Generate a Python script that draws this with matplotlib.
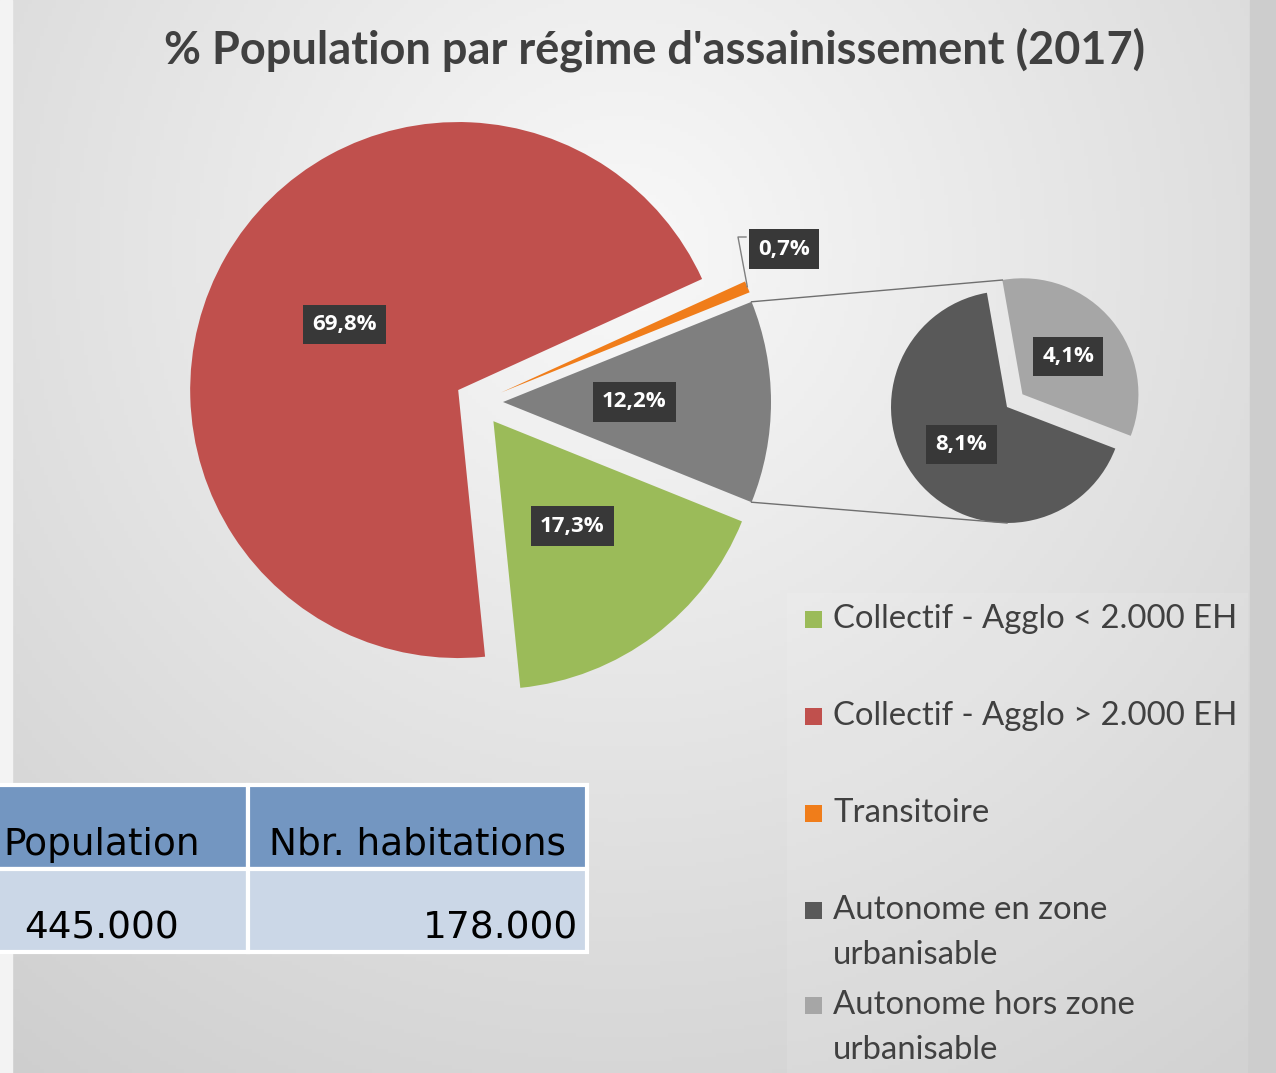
import matplotlib
matplotlib.use('Agg')
import matplotlib.pyplot as plt
import numpy as np
from matplotlib.patches import Rectangle

W, H = 1276, 1073

title = "% Population par régime d'assainissement (2017)"

# main pie (counterclockwise from the "Autonome" group)
main_names = ['Autonome', 'Transitoire', 'Collectif - Agglo > 2.000 EH', 'Collectif - Agglo < 2.000 EH']
main_values = [12.2, 0.7, 69.8, 17.3]
main_colors = ['#7F7F7F', '#F07D1A', '#C0504D', '#9BBB59']

# secondary pie = detail of "Autonome"
sub_names = ['Autonome hors zone\nurbanisable', 'Autonome en zone\nurbanisable']
sub_values = [4.1, 8.1]
sub_colors = ['#A6A6A6', '#595959']

legend_names = ['Collectif - Agglo < 2.000 EH', 'Collectif - Agglo > 2.000 EH', 'Transitoire',
                'Autonome en zone\nurbanisable', 'Autonome hors zone\nurbanisable']
legend_colors = ['#9BBB59', '#C0504D', '#F07D1A', '#595959', '#A6A6A6']

table_headers = ['Population', 'Nbr. habitations']
table_values = ['445.000', '178.000']


def fmt(v):
    return f'{v:.1f}%'.replace('.', ',')


fig = plt.figure(figsize=(W / 100, H / 100), dpi=100)
ax = fig.add_axes([0, 0, 1, 1])

# background gradient
yy, xx = np.mgrid[0:H:4, 0:W:4]
d = np.sqrt(((xx - 620) / 800.0) ** 2 + ((yy - 250) / 800.0) ** 2)
g = np.clip(0.975 - 0.13 * d, 0, 1)
ax.imshow(np.dstack([g, g, g]), extent=[0, W, 0, H], origin='upper', aspect='auto', zorder=0)
ax.add_patch(Rectangle((0, 0), 12, H, color='#f3f3f3', zorder=0.5))
ax.add_patch(Rectangle((1250, 0), 26, H, color='#cdcdcd', zorder=0.5))
ax.add_patch(Rectangle((787, 0), 461, H - 593, color='white', alpha=0.1, lw=0, zorder=0.5))

lbl_box = dict(boxstyle='square,pad=0.42', fc='#383838', ec='none')
lbl_font = dict(color='white', fontsize=16, fontweight='bold', family='Open Sans')

wedges, _, autotexts = ax.pie(main_values, colors=main_colors, startangle=-21.96,
                              center=(479, H - 402), radius=268, explode=[24] * 4,
                              autopct=fmt, pctdistance=0.49, frame=True,
                              wedgeprops=dict(linewidth=0), textprops=lbl_font)
for t in autotexts:
    t.set_bbox(lbl_box)

# small slice label outside with leader
orange = wedges[1]
tm = np.deg2rad((orange.theta1 + orange.theta2) / 2)
tip = (orange.center[0] + orange.r * np.cos(tm), orange.center[1] + orange.r * np.sin(tm))
autotexts[1].set_position((784, H - 249))
ax.plot([tip[0], 738, 746], [tip[1], H - 237, H - 237], color='#7f7f7f', lw=1, zorder=2)

sub_total = sum(sub_values)
sw, _, sub_texts = ax.pie(sub_values, colors=sub_colors, startangle=-21,
                          center=(1007, H - 407), radius=116, explode=[20, 0],
                          autopct=lambda p: fmt(p * sub_total / 100), pctdistance=0.51,
                          frame=True, wedgeprops=dict(linewidth=0), textprops=lbl_font)
for t in sub_texts:
    t.set_bbox(lbl_box)

# connector lines between the pies
gw = wedges[0]
gtop = (gw.center[0] + gw.r * np.cos(np.deg2rad(gw.theta2)), gw.center[1] + gw.r * np.sin(np.deg2rad(gw.theta2)))
gbot = (gw.center[0] + gw.r * np.cos(np.deg2rad(gw.theta1)), gw.center[1] + gw.r * np.sin(np.deg2rad(gw.theta1)))
lw_ = sw[0]
stop = (lw_.center[0] + lw_.r * np.cos(np.deg2rad(lw_.theta2)), lw_.center[1] + lw_.r * np.sin(np.deg2rad(lw_.theta2)))
sbot = (sw[1].center[0], sw[1].center[1] - sw[1].r)
ax.plot([gtop[0], stop[0]], [gtop[1], stop[1]], color='#6f6f6f', lw=1, zorder=3)
ax.plot([gbot[0], sbot[0]], [gbot[1], sbot[1]], color='#6f6f6f', lw=1, zorder=3)

ax.text(655, H - 50, title, ha='center', va='center', fontsize=32.5, fontweight='bold',
        color='#404040', family='Lato')

# legend
leg_y = [619, 716, 813, 910, 1005]
for name, col, y in zip(legend_names, legend_colors, leg_y):
    ax.add_patch(Rectangle((805, H - y - 9), 17, 17, color=col, lw=0, zorder=3))
    for i, line in enumerate(name.split('\n')):
        ax.text(833, H - y - i * 45, line, ha='left', va='center', fontsize=23.7,
                color='#404040', family='Lato', zorder=3)

# table
x0 = -45
tb = ax.table(cellText=[table_values], colLabels=table_headers, cellLoc='center',
              colWidths=[248 - x0, 587 - 248],
              bbox=[x0 / W, 1 - 952 / H, (587 - x0) / W, (952 - 785) / H])
tb.set_zorder(4)
tb.auto_set_font_size(False)
tb.set_fontsize(27)
for (r, c), cell in tb.get_celld().items():
    cell.set_edgecolor('white')
    cell.set_linewidth(3)
    cell.set_facecolor('#7396C1' if r == 0 else '#CBD7E7')
    txt = cell.get_text()
    txt.set_family('DejaVu Sans')
    txt.set_color('black')
    txt.set_va('top')
tb[1, 1].get_text().set_ha('right')
tb[1, 1].PAD = 0.027

ax.set_xlim(0, W)
ax.set_ylim(0, H)
ax.axis('off')
fig.savefig('out.png', dpi=100)
